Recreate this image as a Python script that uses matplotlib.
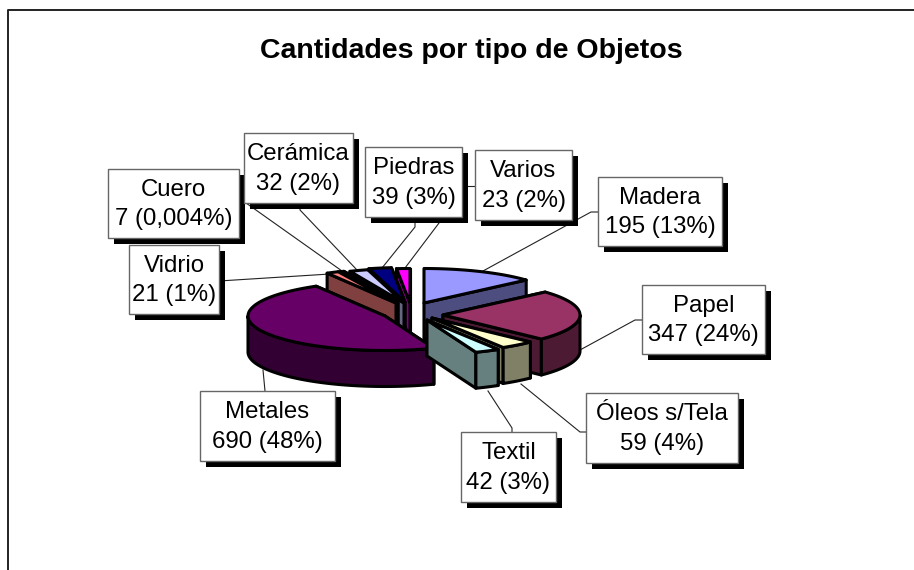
import numpy as np
import matplotlib
matplotlib.use("Agg")
import matplotlib.pyplot as plt
from matplotlib.patches import Polygon, Rectangle

plt.rcParams['font.family'] = ['Liberation Sans', 'DejaVu Sans']

# Datos
categorias = ["Madera", "Papel", "Óleos s/Tela", "Textil", "Metales",
              "Vidrio", "Cuero", "Cerámica", "Piedras", "Varios"]
cantidades = [195, 347, 59, 42, 690, 21, 7, 32, 39, 23]
porcentajes = ["13%", "24%", "4%", "3%", "48%", "1%", "0,004%", "2%", "3%", "2%"]

colores = ["#9999ff", "#993366", "#ffffcc", "#ccffff", "#660066",
           "#ff8080", "#0066cc", "#ccccff", "#000080", "#ff00ff"]
colores_lado = ["#4d4d80", "#4d1a33", "#808066", "#668080", "#330033",
                "#804040", "#003366", "#666680", "#000040", "#800080"]

# Geometria del pastel (pixeles)
cx, cy = 403, 315
rx, ry = 137, 34.5
alto = 36
desplaz = [(21, -12), (40, 0), (29, 3), (24, 5), (-18, 1),
           (-7, -12), (-5, -12), (1, -12), (2, -13), (7, -12)]
orden = [9, 8, 7, 6, 5, 0, 4, 1, 2, 3]

# Cajas de etiquetas: x0, y0, x1, y1
cajas = [(598, 177, 722, 246), (642, 285, 765, 354), (586, 393, 738, 463),
         (461, 432, 556, 502), (200, 391, 335, 461), (129, 245, 219, 314),
         (108, 169, 239, 238), (244, 133, 353, 203), (365, 147, 462, 217),
         (475, 150, 572, 220)]
guias = [[(598, 212), (591, 212), (483, 271)],
         [(642, 320), (635, 320), (580, 350)],
         [(587, 432), (580, 432), (521, 384)],
         [(512, 432), (512, 428), (488, 391)],
         [(265, 391), (263, 370)],
         [(219, 281), (330, 274)],
         [(239, 198), (342, 271)],
         [(300, 203), (300, 210), (357, 270)],
         [(415, 217), (415, 227), (382, 268)],
         [(475, 186), (462, 186)],
         [(443, 217), (439, 223), (405, 268)]]

fig = plt.figure(figsize=(9.14, 5.70), dpi=100)
ax = fig.add_axes([0, 0, 1, 1])
ax.set_xlim(0, 914)
ax.set_ylim(570, 0)
ax.axis("off")

# Marco: solo arriba e izquierda
ax.plot([8, 8, 914], [570, 10, 10], color="#222222", lw=1.4, zorder=1)

ax.text(471, 51, "Cantidades por tipo de Objetos", fontsize=20.5,
        fontweight="bold", ha="center", va="center", color="black")


def punto(x0, y0, ang):
    # angulo en grados, horario desde las 12
    a = np.radians(ang)
    return np.column_stack([x0 + rx * np.sin(a), y0 - ry * np.cos(a)])


# Pastel
angulos = np.cumsum([0] + cantidades) / sum(cantidades) * 360
z = 3
for i in orden:
    ini, fin = angulos[i], angulos[i + 1]
    x0, y0 = cx + desplaz[i][0], cy + desplaz[i][1]
    arco = punto(x0, y0, np.linspace(ini, fin, 80))
    abajo = np.array([0, alto])
    kw = dict(ec="black", lw=2.2, joinstyle="round")

    # caras de corte, primero la mas lejana
    for p in sorted((arco[0], arco[-1]), key=lambda q: q[1]):
        cara = [(x0, y0), p, p + abajo, (x0, y0 + alto)]
        ax.add_patch(Polygon(cara, fc=colores_lado[i], zorder=z, **kw))
        z += 0.1
    # pared exterior, solo lo que mira al frente
    a, b = max(ini, 90), min(fin, 270)
    if b > a:
        frente = punto(x0, y0, np.linspace(a, b, 80))
        ax.add_patch(Polygon(np.vstack([frente, (frente + abajo)[::-1]]),
                             fc=colores_lado[i], zorder=z, **kw))
    # tapa
    ax.add_patch(Polygon(np.vstack([[(x0, y0)], arco]), fc=colores[i], zorder=z + 0.5, **kw))
    z += 1

# Lineas guia
for g in guias:
    g = np.array(g)
    ax.plot(g[:, 0], g[:, 1], color="#222222", lw=0.8, zorder=2)

# Etiquetas con sombra
for nombre, valor, pct, (x0, y0, x1, y1) in zip(categorias, cantidades, porcentajes, cajas):
    ax.add_patch(Rectangle((x0 + 6, y0 + 6), x1 - x0, y1 - y0, fc="black", ec="black", lw=0, zorder=30))
    ax.add_patch(Rectangle((x0, y0), x1 - x0, y1 - y0, fc="white", ec="#666666", lw=1.0, zorder=31))
    ax.text((x0 + x1) / 2, (y0 + y1) / 2 + 1, f"{nombre}\n{valor} ({pct})", fontsize=17.3,
            ha="center", va="center", linespacing=1.45, color="black", zorder=32)

fig.savefig("out.png", dpi=100, facecolor="white")
